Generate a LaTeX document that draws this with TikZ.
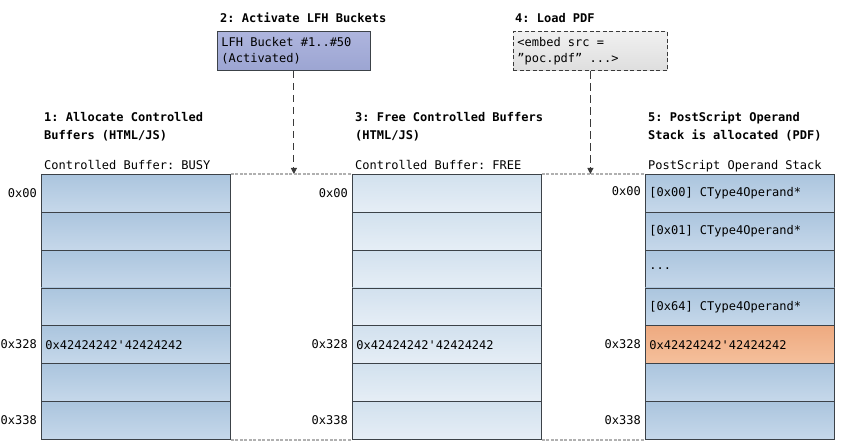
\documentclass[tikz,border=0pt]{standalone}
\usepackage{fontspec}
\setmonofont{DejaVu Sans Mono}[WordSpace={1,0,0}]
\usetikzlibrary{arrows.meta}
\definecolor{cellline}{HTML}{3C4248}
\definecolor{busyT}{HTML}{ABC5DE}
\definecolor{busyB}{HTML}{C6D8EA}
\definecolor{freeT}{HTML}{D2E1EE}
\definecolor{freeB}{HTML}{E6EEF6}
\definecolor{orgT}{HTML}{EEAA80}
\definecolor{orgB}{HTML}{F5C09C}
\definecolor{lfhT}{HTML}{AEB5DE}
\definecolor{lfhB}{HTML}{9CA5D2}
\definecolor{pdfT}{HTML}{F0F0F0}
\definecolor{pdfB}{HTML}{DEDEDE}
\definecolor{arrc}{HTML}{3A3A3A}
\definecolor{dotc}{HTML}{B0B0B0}
\newcommand{\mymono}{\ttfamily\fontsize{12}{16}\selectfont}
\newcommand{\mybold}{\ttfamily\bfseries\fontsize{12}{18}\selectfont}
\begin{document}
\begin{tikzpicture}[x=1pt,y=-1pt,
  cell/.style={draw=cellline, line width=0.8pt, minimum height=37.86pt,
    text width=181pt, inner xsep=4pt, inner ysep=0pt, align=flush left,
    anchor=north west, font=\mymono},
  busy/.style={cell, top color=busyT, bottom color=busyB},
  freec/.style={cell, top color=freeT, bottom color=freeB},
  orange/.style={cell, top color=orgT, bottom color=orgB},
  offs/.style={anchor=east, font=\mymono, inner sep=0pt},
  ttl/.style={anchor=base west, font=\mybold, align=flush left, inner sep=0pt},
  hdr/.style={anchor=base west, font=\mymono, inner sep=0pt},
  arr/.style={draw=arrc, line width=0.9pt, dash pattern=on 7.5pt off 4.5pt,
    -{Triangle[width=6pt,length=6pt,fill=arrc]}},
  dotl/.style={draw=dotc, line width=1.8pt, dash pattern=on 3pt off 1.5pt}
]
\useasboundingbox (0,0) rectangle (841,446);

% column 1
\node[busy] (c1r1) at (41,174) {};
\node[busy] (c1r2) at (41,211.86) {};
\node[busy] (c1r3) at (41,249.71) {};
\node[busy] (c1r4) at (41,287.57) {};
\node[busy] (c1r5) at (41,325.43) {0x42424242'42424242};
\node[busy] (c1r6) at (41,363.29) {};
\node[busy] (c1r7) at (41,401.14) {};

% column 2
\node[freec] (c2r1) at (352,174) {};
\node[freec] (c2r2) at (352,211.86) {};
\node[freec] (c2r3) at (352,249.71) {};
\node[freec] (c2r4) at (352,287.57) {};
\node[freec] (c2r5) at (352,325.43) {0x42424242'42424242};
\node[freec] (c2r6) at (352,363.29) {};
\node[freec] (c2r7) at (352,401.14) {};

% column 3
\node[busy] (c3r1) at (645,174) {[0x00] CType4Operand*};
\node[busy] (c3r2) at (645,211.86) {[0x01] CType4Operand*};
\node[busy] (c3r3) at (645,249.71) {...};
\node[busy] (c3r4) at (645,287.57) {[0x64] CType4Operand*};
\node[orange] (c3r5) at (645,325.43) {0x42424242'42424242};
\node[busy] (c3r6) at (645,363.29) {};
\node[busy] (c3r7) at (645,401.14) {};

% offsets
\node[offs] (o1a) at ([xshift=-4pt]c1r1.west) {0x00};
\node[offs] (o1b) at ([xshift=-4pt,yshift=1pt]c1r5.west) {0x328};
\node[offs] (o1c) at ([xshift=-4pt]c1r7.west) {0x338};
\node[offs] (o2a) at ([xshift=-4pt]c2r1.west) {0x00};
\node[offs] (o2b) at ([xshift=-4pt,yshift=1pt]c2r5.west) {0x328};
\node[offs] (o2c) at ([xshift=-4pt]c2r7.west) {0x338};
\node[offs] (o3a) at ([xshift=-4pt,yshift=2pt]c3r1.west) {0x00};
\node[offs] (o3b) at ([xshift=-4pt,yshift=1pt]c3r5.west) {0x328};
\node[offs] (o3c) at ([xshift=-4pt]c3r7.west) {0x338};

% headers
\node[hdr] (h1) at (44,169.5) {Controlled Buffer: BUSY};
\node[hdr] (h2) at (355,169.5) {Controlled Buffer: FREE};
\node[hdr] (h3) at (648,169.5) {PostScript Operand Stack};

% titles (base = last line)
\node[ttl] (t1) at (44,139.5) {1: Allocate Controlled\\Buffers (HTML/JS)};
\node[ttl] (t3) at (355,139.5) {3: Free Controlled Buffers\\(HTML/JS)};
\node[ttl] (t5) at (648,139.5) {5: PostScript Operand\\Stack is allocated (PDF)};
\node[ttl] (t2) at (220,22.5) {2: Activate LFH Buckets};
\node[ttl] (t4) at (515,22.5) {4: Load PDF};

% LFH box
\node[draw=cellline, line width=0.8pt, top color=lfhT, bottom color=lfhB,
  anchor=north west, minimum width=153pt, minimum height=39pt,
  text width=145pt, inner xsep=4pt, inner ysep=0pt, align=flush left,
  font=\mymono] (lfh) at (217,31) {LFH Bucket \#1..\#50\\(Activated)};

% PDF box
\node[draw=arrc, line width=0.8pt, dash pattern=on 4pt off 2.5pt,
  top color=pdfT, bottom color=pdfB,
  anchor=north west, minimum width=154pt, minimum height=39pt,
  text width=146pt, inner xsep=4pt, inner ysep=0pt, align=flush left,
  font=\mymono] (pdf) at (513,31.5) {<embed src =\\”poc.pdf” ...>};

% arrows
\coordinate (a1) at (lfh.south |- c1r1.north);
\coordinate (a2) at (pdf.south |- c2r1.north);
\draw[arr] (lfh.south) -- (a1);
\draw[arr] (pdf.south) -- (a2);

% dotted connectors
\draw[dotl] (c1r1.north east) -- (c2r1.north west);
\draw[dotl] (c2r1.north east) -- (c3r1.north west);
\draw[dotl] (c1r7.south east) -- (c2r7.south west);
\draw[dotl] (c2r7.south east) -- (c3r7.south west);
\end{tikzpicture}
\end{document}
